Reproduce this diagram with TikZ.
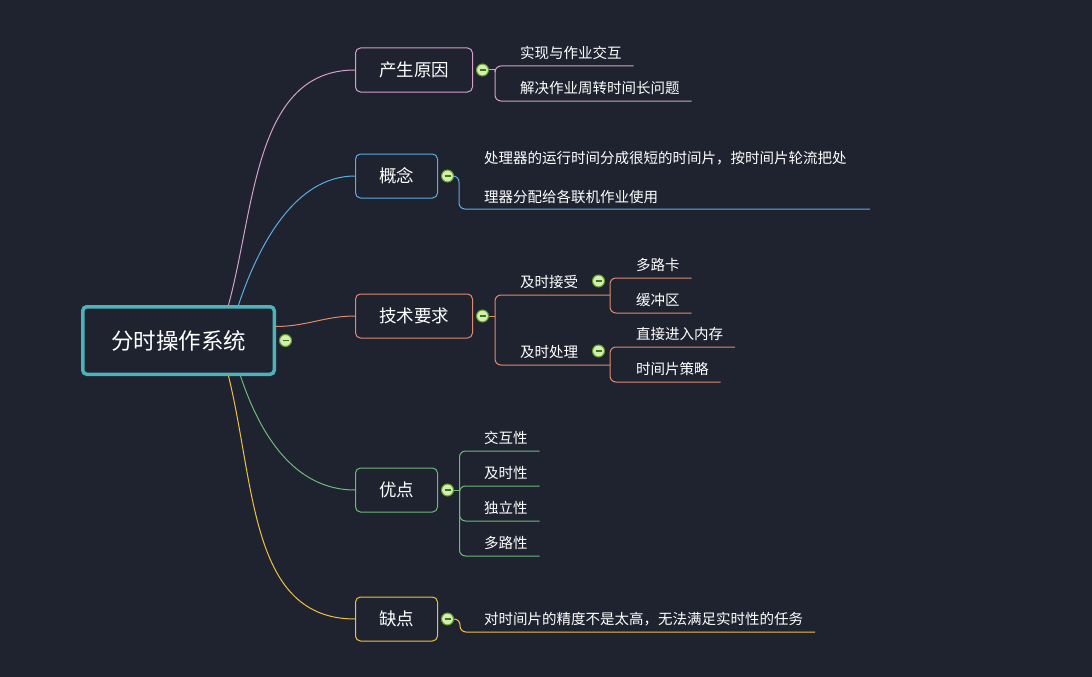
\documentclass[tikz,border=0pt]{standalone}
\usepackage{fontspec}
\setmainfont{Noto Sans CJK SC}
\usepackage{tikz}
\usetikzlibrary{positioning,calc}
\definecolor{bgcol}{HTML}{1F2330}
\definecolor{rootcol}{HTML}{4DB3B8}
\definecolor{pinkcol}{HTML}{D4A0CC}
\definecolor{bluecol}{HTML}{5AAEE2}
\definecolor{salmoncol}{HTML}{E08A6E}
\definecolor{greencol}{HTML}{6DBA78}
\definecolor{yellowcol}{HTML}{EEC143}
\definecolor{foldring}{HTML}{5E9E20}
\definecolor{foldfill}{HTML}{D5ECB5}
\definecolor{foldbar}{HTML}{3B7A0E}

\begin{document}
\begin{tikzpicture}[x=1pt, y=-1pt, line width=1pt]
	\tikzstyle{root}=[draw=rootcol, line width=3.5pt, rounded corners=4pt, text=white, minimum width=191.5pt, minimum height=67.5pt, font=\fontsize{22.5pt}{26pt}\selectfont]
	\tikzstyle{topic}=[draw, line width=1pt, rounded corners=5pt, text=white, inner xsep=23.5pt, minimum height=44pt, anchor=west, font=\fontsize{17.5pt}{20pt}\selectfont]
	\tikzstyle{leaf}=[text=white, inner xsep=12pt, inner ysep=6.5pt, outer sep=0pt, text height=14pt, text depth=1pt, anchor=west, font=\fontsize{14.5pt}{17pt}\selectfont]
	\tikzstyle{subleaf}=[leaf, inner xsep=32pt]
	\tikzstyle{note}=[text=white, inner xsep=12pt, inner ysep=5.5pt, outer sep=0pt, text width=374pt, align=left, anchor=south west, font=\fontsize{14.5pt}{39pt}\selectfont]
	\tikzstyle{fold}=[circle, draw=foldring, fill=foldfill, line width=1pt, minimum size=12pt, inner sep=0pt, path picture={\draw[foldbar, line width=1.6pt] ([xshift=3pt]path picture bounding box.west) -- ([xshift=-3pt]path picture bounding box.east);}]
	\fill[bgcol] (0,0) rectangle (1092,677);
	\useasboundingbox (0,0) rectangle (1092,677);

	\node[root] (R) at (178.5,340.5) {分时操作系统};
	\node[topic, draw=pinkcol]   (A) at (355,70)  {产生原因};
	\node[topic, draw=bluecol]   (B) at (355,176) {概念};
	\node[topic, draw=salmoncol] (C) at (355,316) {技术要求};
	\node[topic, draw=greencol]  (D) at (355,490) {优点};
	\node[topic, draw=yellowcol] (E) at (355,619) {缺点};

	\node[leaf] (A1) at (508,52) {实现与作业交互};
	\node[leaf] (A2) at (508,87) {解决作业周转时间长问题};
	\node[note] (B1) at (472,209) {处理器的运行时间分成很短的时间片，按时间片轮流把处\\理器分配给各联机作业使用};
	\node[subleaf] (C1) at (488,281) {及时接受};
	\node[subleaf] (C2) at (488,351) {及时处理};
	\node[leaf] (C11) at (624,264) {多路卡};
	\node[leaf] (C12) at (624,299) {缓冲区};
	\node[leaf] (C21) at (624,333) {直接进入内存};
	\node[leaf] (C22) at (624,368) {时间片策略};
	\node[leaf] (D1) at (472,437) {交互性};
	\node[leaf] (D2) at (472,472) {及时性};
	\node[leaf] (D3) at (472,507) {独立性};
	\node[leaf] (D4) at (472,542) {多路性};
	\node[leaf] (E1) at (472,618) {对时间片的精度不是太高，无法满足实时性的任务};

	\draw[pinkcol]   ([xshift=50pt]R.north) .. controls +(27,-100) and +(-100,0) .. (A.west);
	\draw[bluecol]   ([xshift=60pt]R.north) .. controls +(20,-60) and +(-60,0) .. (B.west);
	\draw[salmoncol] ([yshift=14pt]R.east) .. controls +(30,0) and +(-30,0) .. (C.west);
	\draw[greencol]  ([xshift=62pt]R.south) .. controls +(20,60) and +(-60,0) .. (D.west);
	\draw[yellowcol] ([xshift=50pt]R.south) .. controls +(27,110) and +(-105,0) .. (E.west);

	\node[fold, right=3pt of R] (R-f) {};
	\node[fold, right=3pt of A] (A-f) {};
	\node[fold, right=3pt of B] (B-f) {};
	\node[fold, right=3pt of C] (C-f) {};
	\node[fold, right=3pt of D] (D-f) {};
	\node[fold, right=3pt of E] (E-f) {};
	\node[fold, left=5pt of C1.east] (C1-f) {};
	\node[fold, left=5pt of C2.east] (C2-f) {};

	\coordinate[right=6pt of A-f] (A-j);
	\coordinate[right=5pt of B-f] (B-j);
	\coordinate[right=6pt of C-f] (C-j);
	\coordinate[right=5.5pt of D-f] (D-j);
	\coordinate[right=6pt of E-f] (E-j);

	\draw[pinkcol] (A-f) -- (A-j);
	\draw[pinkcol, rounded corners=6pt] (A-j) |- (A1.south east);
	\draw[pinkcol, rounded corners=6pt] (A-j) |- (A2.south east);
	\draw[bluecol, rounded corners=6pt] (B-f) -- (B-j) |- (B1.south east);
	\draw[salmoncol] (C-f) -- (C-j);
	\draw[salmoncol, rounded corners=6pt] (C-j) |- (C1.south east);
	\draw[salmoncol, rounded corners=6pt] (C-j) |- (C2.south east);
	\draw[salmoncol, rounded corners=6pt] (C1.south east) |- (C11.south east);
	\draw[salmoncol, rounded corners=6pt] (C1.south east) |- (C12.south east);
	\draw[salmoncol, rounded corners=6pt] (C2.south east) |- (C21.south east);
	\draw[salmoncol, rounded corners=6pt] (C2.south east) |- (C22.south east);
	\draw[greencol] (D-f) -- (D-j);
	\foreach \n in {D1,D2,D3,D4}
		\draw[greencol, rounded corners=6pt] (D-j) |- (\n.south east);
	\draw[yellowcol, rounded corners=6pt] (E-f) -- (E-j) |- (E1.south east);
\end{tikzpicture}
\end{document}
